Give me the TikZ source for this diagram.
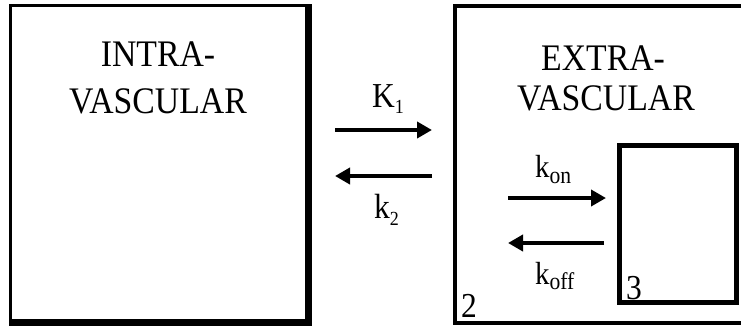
\documentclass[tikz,border=0pt]{standalone}
\usepackage{fontspec}
\setmainfont{Liberation Serif}[FakeStretch=0.9]
\usetikzlibrary{arrows.meta}
\begin{document}
\begin{tikzpicture}[x=1pt,y=-1pt,
  comp/.style={draw=black,rectangle,inner sep=0pt,outer sep=0pt},
  bigtext/.style={inner sep=0pt,anchor=base,font=\fontsize{37.5}{37.5}\selectfont},
  ratelabel/.style={inner sep=0pt,anchor=base west},
  numlabel/.style={inner sep=0pt,anchor=base west,font=\fontsize{35}{35}\selectfont},
  flow/.style={line width=4.5pt,-{Triangle[length=15pt,width=16pt]}},
]
\useasboundingbox (0,0) rectangle (741,327);
\clip (0,0) rectangle (741,327);
% compartments
\node[comp,line width=3.4pt,minimum width=296pt,minimum height=315.4pt] (intra) at (158.7,163.3) {};
\fill[black] ([xshift=1.7pt,yshift=1.7pt]intra.north east) rectangle ([xshift=5pt,yshift=-5pt]intra.south east);
\fill[black] ([xshift=-1.7pt,yshift=-1.7pt]intra.south west) rectangle ([xshift=5pt,yshift=-5pt]intra.south east);
\node[comp,line width=4pt,minimum width=290.3pt,minimum height=316.85pt] (extra) at (599.85,164.1) {};
\node[comp,line width=5pt,minimum width=117.3pt,minimum height=156.7pt] (bound) at (677.85,224.15) {};
% texts
\node[bigtext] (t1) at (158,66) {INTRA-};
\node[bigtext] (t2) at (158,113) {VASCULAR};
\node[bigtext] (t3) at (603,70) {EXTRA-};
\node[bigtext] (t4) at (606,110) {VASCULAR};
% arrows
\coordinate (a1s) at (335,130); \coordinate (a1e) at (432,130);
\coordinate (a2s) at (432,176); \coordinate (a2e) at (335,176);
\coordinate (a3s) at (508,198); \coordinate (a3e) at (606,198);
\coordinate (a4s) at (604,243); \coordinate (a4e) at (508,243);
\draw[flow] (a1s) -- (a1e);
\draw[flow] (a2s) -- (a2e);
\draw[flow] (a3s) -- (a3e);
\draw[flow] (a4s) -- (a4e);
% rate labels
\node[ratelabel] (K1) at (372,107) {\fontsize{35}{35}\selectfont K\raisebox{-6pt}{\fontsize{20}{20}\selectfont 1}};
\node[ratelabel] (k2) at (374,218) {\fontsize{35}{35}\selectfont k\raisebox{-7pt}{\fontsize{20}{20}\selectfont 2}};
\node[ratelabel] (kon) at (535,177) {\fontsize{32}{32}\selectfont k\raisebox{-6pt}{\fontsize{24}{24}\selectfont on}};
\node[ratelabel] (koff) at (535,284) {\fontsize{32}{32}\selectfont k\raisebox{-5pt}{\fontsize{24}{24}\selectfont off}};
% compartment numbers
\node[numlabel] (n2) at (461,317) {2};
\node[numlabel] (n3) at (626,299) {3};
\end{tikzpicture}
\end{document}
